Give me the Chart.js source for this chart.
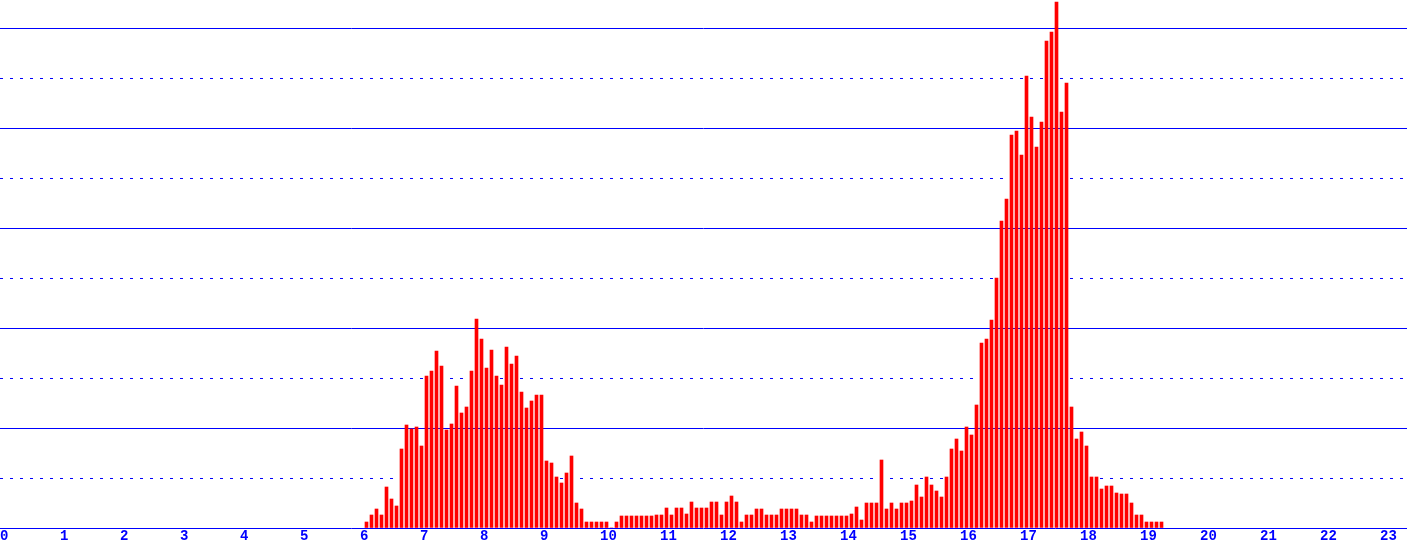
<!DOCTYPE html>
<html>
<head>
<meta charset="utf-8">
<script src="https://cdn.jsdelivr.net/npm/chart.js@4/dist/chart.umd.min.js"></script>
<style>
  html, body { margin: 0; padding: 0; background: #fff; overflow: hidden; }
  #chart { display: block; }
</style>
</head>
<body>
<canvas id="chart" width="1407" height="548"></canvas>
<script>
// one bar per 5-minute slot, first slot 06:05
const firstSlot = '06:05'
const slotMinutes = 5

const counts = [
   6, 13, 19, 13, 41, 29, 22, 79, 103, 99, 101, 82,          // 06:05 - 07:00
   152, 157, 177, 162, 98, 104, 142, 115, 121, 157, 209, 189, // 07:05 - 08:00
   160, 178, 152, 143, 181, 164, 172, 136, 120, 127, 133, 133, // 08:05 - 09:00
   67, 65, 51, 45, 55, 72, 25, 19, 6, 6, 6, 6,                // 09:05 - 10:00
   6, 0, 6, 12, 12, 12, 12, 12, 12, 12, 13, 13,               // 10:05 - 11:00
   20, 13, 20, 20, 14, 26, 20, 20, 20, 26, 26, 13,            // 11:05 - 12:00
   26, 32, 26, 6, 13, 13, 19, 19, 13, 13, 13, 19,             // 12:05 - 13:00
   19, 19, 19, 13, 13, 6, 12, 12, 12, 12, 12, 12,             // 13:05 - 14:00
   12, 14, 21, 8, 25, 25, 25, 68, 19, 25, 19, 25,             // 14:05 - 15:00
   25, 27, 43, 31, 51, 43, 37, 31, 51, 79, 89, 77,            // 15:05 - 16:00
   101, 93, 123, 185, 189, 208, 250, 307, 329, 393, 397, 373, // 16:05 - 17:00
   452, 411, 381, 406, 487, 496, 526, 416, 445, 121, 89, 96,  // 17:05 - 18:00
   82, 51, 51, 39, 42, 42, 35, 34, 34, 25, 13, 13,            // 18:05 - 19:00
   6, 6, 6, 6,                                                // 19:05 - 19:20
]

const hourTicks = [ 0, 1, 2, 3, 4, 5, 6, 7, 8, 9, 10, 11, 12, 13, 14, 15, 16, 17, 18, 19, 20, 21, 22, 23 ]
const solidLines = [ 0, 100, 200, 300, 400, 500 ]
const dashedLines = [ 50, 150, 250, 350, 450 ]

const BLUE = '#0000ff'
const RED = '#ff0000'

const [ h0, m0 ] = firstSlot.split( ':' ).map( Number )
const points = counts.map( ( v, i ) => ( { x: h0 + ( m0 + i * slotMinutes ) / 60, y: v } ) )

const pxPerHour = 60
const xMin = -1.5 / pxPerHour // bars sit just right of their tick
const xMax = xMin + 1407 / pxPerHour
const yMax = 528.01 // a hair over the plot height so grid lines round onto the right row

const noWidth = ( scale ) => { scale.width = 0 }

new Chart( document.getElementById( 'chart' ), {
   type: 'bar',
   data: {
      datasets: [ {
         data: points,
         backgroundColor: RED,
         borderWidth: 0,
         barThickness: 3,
         yAxisID: 'y',
      } ],
   },
   options: {
      responsive: false,
      animation: false,
      devicePixelRatio: 1,
      layout: { padding: 0, autoPadding: false },
      plugins: {
         legend: { display: false },
         tooltip: { enabled: false },
      },
      scales: {
         x: {
            type: 'linear',
            offset: false,
            min: xMin,
            max: xMax,
            afterBuildTicks: ( scale ) => { scale.ticks = hourTicks.map( ( value ) => ( { value } ) ) },
            afterFit: ( scale ) => {
               scale.height = 20
               scale.paddingLeft = 0
               scale.paddingRight = 0
            },
            grid: { display: false, drawTicks: false },
            border: { display: false },
            ticks: {
               align: 'start',
               labelOffset: -1.5,
               padding: 0,
               color: BLUE,
               maxRotation: 0,
               autoSkip: false,
               font: { family: 'Liberation Mono', size: 14, weight: 'bold' },
               callback: ( v ) => String( v ),
            },
         },
         y: {
            min: 0,
            max: yMax,
            afterBuildTicks: ( scale ) => { scale.ticks = solidLines.map( ( value ) => ( { value } ) ) },
            afterFit: noWidth,
            ticks: { display: false },
            grid: { color: BLUE, lineWidth: 1, drawTicks: false },
            border: { display: false },
         },
         y2: {
            position: 'right',
            min: 0,
            max: yMax,
            afterBuildTicks: ( scale ) => { scale.ticks = dashedLines.map( ( value ) => ( { value } ) ) },
            afterFit: noWidth,
            ticks: { display: false },
            grid: { color: BLUE, lineWidth: 1, drawTicks: false },
            border: { display: false, dash: [ 3, 7 ] },
         },
      },
   },
} )
</script>
</body>
</html>
